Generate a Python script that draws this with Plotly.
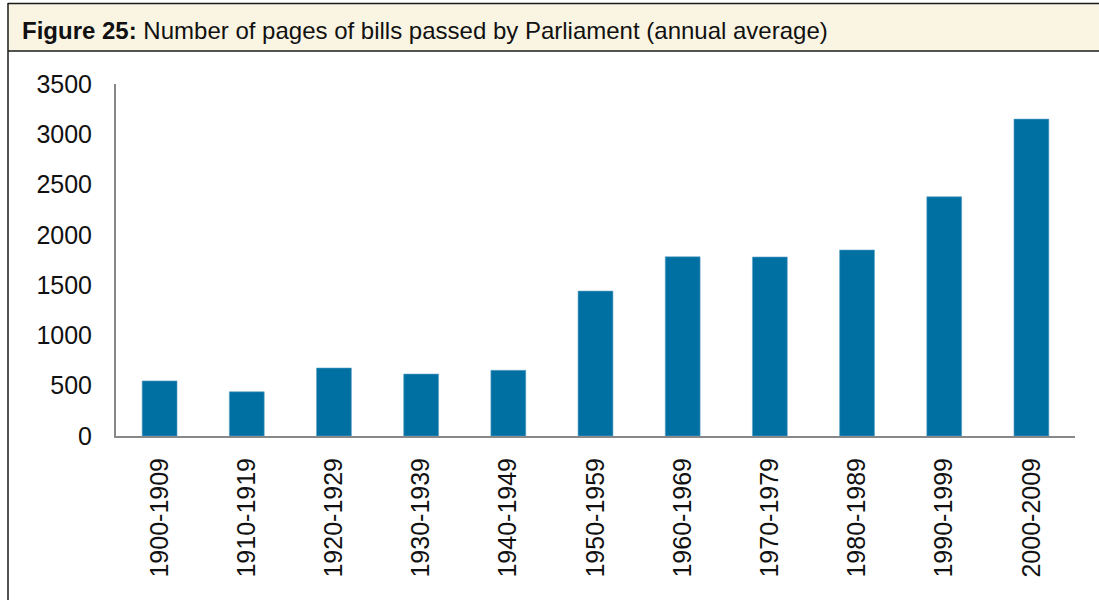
import plotly.graph_objects as go

categories = ["1900-1909", "1910-1919", "1920-1929", "1930-1939", "1940-1949",
              "1950-1959", "1960-1969", "1970-1979", "1980-1989", "1990-1999", "2000-2009"]
pages = [548, 440, 676, 616, 653, 1441, 1782, 1780, 1849, 2379, 3151]
y_ticks = [0, 500, 1000, 1500, 2000, 2500, 3000, 3500]

title_bold = "Figure 25:"
title_rest = "Number of pages of bills passed by Parliament (annual average)"

W, H = 1099, 600
L, R, T, B = 116, 1075, 84, 436  # plot area in pixels

def px(x):
    return (x - L) / (R - L)

def py(y):
    return (B - y) / (B - T)

fig = go.Figure()
fig.add_trace(go.Bar(
    x=categories, y=pages,
    marker=dict(color="#0070A3", line=dict(color="#5FA3C7", width=0.6)),
    width=0.4,
))

font_family = "Liberation Sans, Arial, Helvetica, sans-serif"

fig.update_layout(
    width=W, height=H,
    margin=dict(l=L, r=W - R, t=T, b=H - B),
    paper_bgcolor="white", plot_bgcolor="white",
    showlegend=False,
    font=dict(family=font_family, color="#111111", size=25),
    xaxis=dict(
        type="category", showgrid=False, tickangle=-90,
        showline=True, linecolor="#888888", linewidth=2,
        ticks="", ticklabelstandoff=10,
        tickfont=dict(size=25, family=font_family, color="#111111"),
    ),
    yaxis=dict(
        range=[0, 3500], tickvals=y_ticks, showgrid=False, zeroline=False,
        showline=True, linecolor="#888888", linewidth=2,
        ticks="", ticklabelstandoff=17,
        tickfont=dict(size=25, family=font_family, color="#111111"),
    ),
    shapes=[
        dict(type="rect", xref="paper", yref="paper",
             x0=px(8), x1=px(1110), y0=py(51), y1=py(3),
             fillcolor="#FAF5E3", line=dict(width=0), layer="below"),
        dict(type="line", xref="paper", yref="paper",
             x0=px(8), x1=px(1110), y0=py(3.5), y1=py(3.5),
             line=dict(color="#1a1a1a", width=1.5)),
        dict(type="line", xref="paper", yref="paper",
             x0=px(8), x1=px(1110), y0=py(51), y1=py(51),
             line=dict(color="#1a1a1a", width=1.5)),
        dict(type="line", xref="paper", yref="paper",
             x0=px(8), x1=px(8), y0=py(3), y1=py(610),
             line=dict(color="#1a1a1a", width=1.5)),
    ],
    annotations=[
        dict(xref="paper", yref="paper", x=px(20), y=py(31),
             xanchor="left", yanchor="middle", showarrow=False,
             text=f"<b>{title_bold}</b> {title_rest}",
             font=dict(size=24, family=font_family, color="#111111")),
    ],
)

fig.write_html("out.html", config={"displayModeBar": False},
               post_script="document.body.style.margin='0';")
